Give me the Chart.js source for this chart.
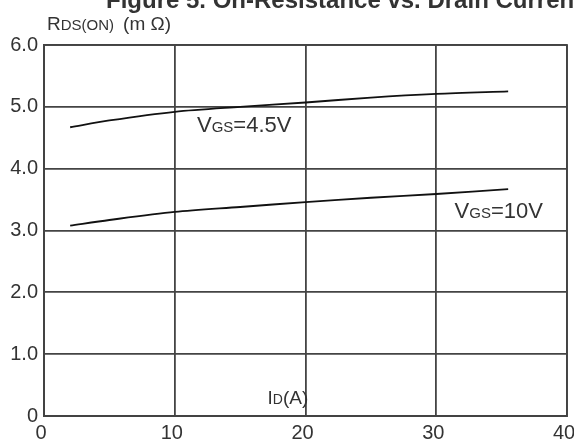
<!DOCTYPE html>
<html>
<head>
<meta charset="utf-8">
<script src="https://cdn.jsdelivr.net/npm/chart.js@4/dist/chart.umd.min.js"></script>
<style>
html,body{margin:0;padding:0;background:#fff;}
#wrap{position:relative;width:574px;height:446px;}
</style>
</head>
<body>
<div id="wrap"><canvas id="c" width="574" height="446"></canvas></div>
<script>
const idValues = [2, 5, 10, 15, 20, 25, 30, 35.5];
const rdsVgs45 = [4.67, 4.78, 4.92, 5.00, 5.07, 5.15, 5.21, 5.25];
const rdsVgs10 = [3.08, 3.17, 3.30, 3.38, 3.46, 3.53, 3.59, 3.67];
const yTickLabels = {0: '0', 1: '1.0', 2: '2.0', 3: '3.0', 4: '4.0', 5: '5.0', 6: '6.0'};
const xTickLabels = {0: '0', 10: '10', 20: '20', 30: '30', 40: '40'};
const titleText = 'Figure 5. On-Resistance vs. Drain Current';
const seriesNames = ['VGS=4.5V', 'VGS=10V'];

const FONT = '"Liberation Sans", Arial, sans-serif';
const TXT = '#333';

function pts(xs, ys){ return xs.map((x,i)=>({x:x, y:ys[i]})); }

const textPlugin = {
  id: 'texts',
  afterDraw(chart){
    const ctx = chart.ctx;
    const xs = chart.scales.x, ys = chart.scales.y;
    ctx.save();
    ctx.fillStyle = TXT;
    ctx.textBaseline = 'alphabetic';
    ctx.textAlign = 'left';
    // title (clipped at top)
    ctx.font = 'bold 24px ' + FONT;
    ctx.fillText(titleText, 106, 8);
    function subLabel(parts, x, y){
      let cx = x;
      parts.forEach(p=>{
        ctx.font = p[1] + 'px ' + FONT;
        ctx.fillText(p[0], cx, y);
        cx += ctx.measureText(p[0]).width + (p[2] || 0);
      });
    }
    // y axis title
    subLabel([['R',19],['DS(ON)',15,9],['(m \u03A9)',19]], 47, 30);
    // x axis title
    subLabel([['I',19],['D',14],['(A)',19]], xs.getPixelForValue(17.1), ys.getPixelForValue(0.2));
    // series labels
    subLabel([['V',22],['GS',15],['=4.5V',22]], xs.getPixelForValue(11.7), ys.getPixelForValue(4.59));
    subLabel([['V',22],['GS',15],['=10V',22]], xs.getPixelForValue(31.4), ys.getPixelForValue(3.21));
    ctx.restore();
  }
};

new Chart(document.getElementById('c'), {
  type: 'scatter',
  data: {
    datasets: [
      {label: seriesNames[0], data: pts(idValues, rdsVgs45), showLine: true, borderColor: '#111', borderWidth: 1.8, pointRadius: 0, tension: 0.3, fill: false},
      {label: seriesNames[1], data: pts(idValues, rdsVgs10), showLine: true, borderColor: '#111', borderWidth: 1.8, pointRadius: 0, tension: 0.3, fill: false}
    ]
  },
  options: {
    responsive: false,
    animation: false,
    events: [],
    layout: {padding: {top: 45, right: 7, left: 0, bottom: 0}},
    plugins: {legend: {display: false}, title: {display: false}, tooltip: {enabled: false}},
    scales: {
      x: {
        type: 'linear', min: 0, max: 40,
        afterFit(s){ s.height = 30; s.paddingRight = 0; s.paddingLeft = 0; },
        border: {display: true, color: '#444', width: 2},
        grid: {color: '#444', lineWidth: 1.8, drawTicks: false},
        ticks: {stepSize: 10, padding: 5, labelOffset: -3, color: TXT, font: {family: FONT, size: 20}, callback: v => xTickLabels[v] ?? ''}
      },
      y: {
        type: 'linear', min: 0, max: 6,
        afterFit(s){ s.width = 44; s.paddingTop = 0; s.paddingBottom = 0; },
        border: {display: true, color: '#444', width: 2},
        grid: {color: '#444', lineWidth: 1.8, drawTicks: false},
        ticks: {stepSize: 1, padding: 6, color: TXT, font: {family: FONT, size: 20}, callback: v => yTickLabels[v] ?? ''}
      }
    }
  },
  plugins: [textPlugin, {
    id: 'frame',
    afterDraw(chart){
      const a = chart.chartArea, ctx = chart.ctx;
      ctx.save(); ctx.strokeStyle = '#444'; ctx.lineWidth = 1.8;
      ctx.strokeRect(a.left, a.top, a.right - a.left, a.bottom - a.top);
      ctx.restore();
    }
  }]
});
</script>
</body>
</html>
